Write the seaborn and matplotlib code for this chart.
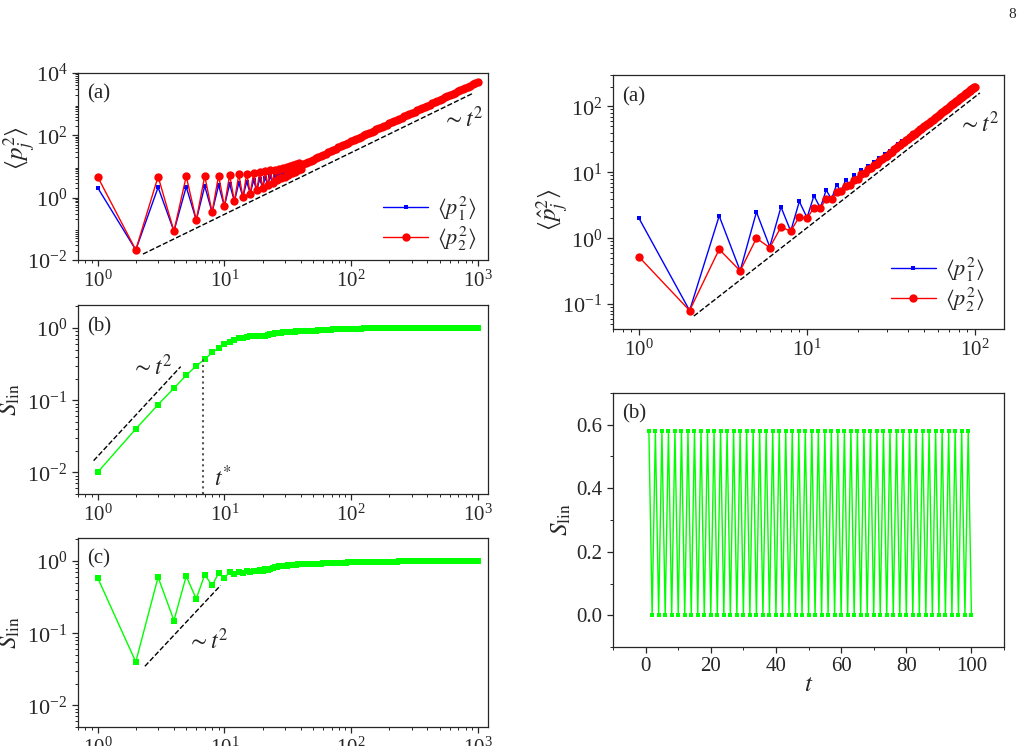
import matplotlib
matplotlib.use("Agg")
import matplotlib.pyplot as plt
from matplotlib.ticker import MultipleLocator, LogLocator, NullFormatter
import seaborn as sns

# ---------------- data ----------------
# left column, times 1..40 every step, then sampled up to 1000
t_head = list(range(1, 41))
t_tail = [42, 44, 46, 48, 50, 53, 55, 58, 60, 63,
          66, 69, 72, 76, 79, 83, 87, 91, 95, 100,
          105, 110, 115, 120, 126, 132, 138, 145, 151, 158,
          166, 174, 182, 191, 200, 209, 219, 229, 240, 251,
          263, 275, 288, 302, 316, 331, 347, 363, 380, 398,
          417, 437, 457, 479, 501, 525, 550, 575, 603, 631,
          661, 692, 724, 759, 794, 832, 871, 912, 955, 1000]

p1_left_head = [2.1, 0.021, 2.15, 0.084, 2.23, 0.189, 2.36, 0.336, 2.53, 0.525,
                2.74, 0.756, 2.99, 1.03, 3.28, 1.34, 3.62, 1.70, 4.0, 2.10,
                4.42, 2.54, 4.88, 3.02, 5.38, 3.55, 5.93, 4.12, 6.52, 4.73,
                7.15, 5.38, 7.82, 6.07, 8.53, 6.80, 9.29, 7.58, 10.1, 8.40]
p2_left_head = [4.7, 0.021, 4.75, 0.084, 4.83, 0.189, 4.96, 0.336, 5.13, 0.525,
                5.34, 0.756, 5.59, 1.03, 5.88, 1.34, 6.22, 1.70, 6.6, 2.10,
                7.02, 2.54, 7.48, 3.02, 7.98, 3.55, 8.53, 4.12, 9.12, 4.73,
                9.75, 5.38, 10.4, 6.07, 11.1, 6.80, 11.9, 7.58, 12.7, 8.40]
# both momenta coincide for t > 40
p_left_tail = [11.6, 12.7, 13.9, 15.1, 16.4, 18.4, 19.9, 22.1, 23.6, 26.0,
               28.6, 31.2, 34.0, 37.7, 40.7, 44.8, 49.1, 53.6, 58.3, 64.4,
               70.7, 77.2, 84.0, 91.1, 100, 109, 119, 131, 141, 154,
               169, 185, 201, 220, 240, 261, 286, 311, 340, 370,
               405, 440, 481, 526, 573, 626, 685, 746, 814, 889,
               971, 1062, 1156, 1264, 1376, 1504, 1644, 1788, 1957, 2133,
               2330, 2542, 2770, 3030, 3301, 3607, 3936, 4295, 4688, 5117]

s_b_head = [0.010, 0.040, 0.087, 0.147, 0.222, 0.30, 0.37, 0.46, 0.53, 0.60,
            0.65, 0.69, 0.72, 0.74, 0.76, 0.77, 0.77, 0.78, 0.78, 0.79,
            0.79, 0.81, 0.83, 0.84, 0.85, 0.86, 0.87, 0.87, 0.88, 0.88,
            0.88, 0.88, 0.89, 0.89, 0.89, 0.89, 0.90, 0.90, 0.90, 0.90]
s_b_tail = [0.90, 0.91, 0.91, 0.91, 0.92, 0.92, 0.93, 0.93, 0.94, 0.94,
            0.95, 0.95, 0.96, 0.96, 0.96, 0.97, 0.97, 0.97, 0.97, 0.98,
            0.98, 0.98, 0.98, 0.98, 0.99, 0.99, 0.99, 0.99, 0.99, 0.99,
            0.99, 0.99, 0.99, 0.99, 1.00, 1.00, 1.00, 1.00, 1.00, 1.00,
            1.00, 1.00, 1.01, 1.01, 1.01, 1.01, 1.01, 1.01, 1.01, 1.01,
            1.01, 1.01, 1.01, 1.01, 1.01, 1.01, 1.02, 1.02, 1.02, 1.02,
            1.02, 1.02, 1.02, 1.02, 1.02, 1.02, 1.02, 1.02, 1.02, 1.02]

s_c_head = [0.59, 0.040, 0.60, 0.15, 0.62, 0.30, 0.65, 0.46, 0.68, 0.59,
            0.70, 0.67, 0.71, 0.69, 0.73, 0.70, 0.74, 0.72, 0.75, 0.73,
            0.77, 0.76, 0.79, 0.80, 0.82, 0.84, 0.86, 0.86, 0.87, 0.87,
            0.87, 0.88, 0.88, 0.88, 0.89, 0.89, 0.89, 0.90, 0.90, 0.90]
s_c_tail = [0.90, 0.90, 0.91, 0.91, 0.91, 0.92, 0.92, 0.92, 0.93, 0.93,
            0.93, 0.94, 0.94, 0.94, 0.95, 0.95, 0.95, 0.95, 0.96, 0.96,
            0.96, 0.96, 0.96, 0.97, 0.97, 0.97, 0.97, 0.97, 0.97, 0.97,
            0.97, 0.98, 0.98, 0.98, 0.98, 0.98, 0.98, 0.98, 0.99, 0.99,
            0.99, 0.99, 0.99, 0.99, 0.99, 0.99, 0.99, 0.99, 0.99, 0.99,
            0.99, 0.99, 0.99, 0.99, 0.99, 0.99, 0.99, 0.99, 0.99, 0.99,
            0.99, 0.99, 0.99, 0.99, 0.99, 0.99, 0.99, 0.99, 0.99, 0.99]

# right column, t = 1..100
t_right = list(range(1, 101))
p1_right = [2.0, 0.08, 2.18, 0.32, 2.5, 0.74, 2.98, 1.28, 3.62, 2.05,
            4.42, 2.88, 5.38, 3.92, 6.5, 5.12, 7.78, 6.48, 9.22, 8.0,
            10.8, 9.68, 12.6, 11.5, 14.5, 13.5, 16.6, 15.7, 18.8, 18.0,
            21.2, 20.5, 23.8, 23.1, 26.5, 25.9, 29.4, 28.9, 32.4, 32.0,
            35.6, 35.3, 39.0, 38.7, 42.5, 42.3, 46.2, 46.1, 50.0, 50.0,
            54.0, 54.1, 58.2, 58.3, 62.5, 62.7, 67.0, 67.3, 71.6, 72.0,
            76.4, 76.9, 81.4, 81.9, 86.5, 87.1, 91.8, 92.5, 97.2, 98.0,
            103, 104, 109, 110, 115, 116, 121, 122, 127, 128,
            133, 134, 140, 141, 147, 148, 153, 155, 160, 162,
            168, 169, 175, 177, 183, 184, 190, 192, 198, 200]
p2_right = [0.52, 0.08, 0.68, 0.32, 1.0, 0.72, 1.48, 1.28, 2.12, 2.0,
            2.92, 2.88, 3.88, 3.92, 5.0, 5.12, 6.28, 6.48, 7.72, 8.0,
            9.32, 9.68, 11.1, 11.5, 13.0, 13.5, 15.1, 15.7, 17.3, 18.0,
            19.7, 20.5, 22.3, 23.1, 25.0, 25.9, 27.9, 28.9, 30.9, 32.0,
            34.1, 35.3, 37.5, 38.7, 41.0, 42.3, 44.7, 46.1, 48.5, 50.0,
            52.5, 54.1, 56.7, 58.3, 61.0, 62.7, 65.5, 67.3, 70.1, 72.0,
            74.9, 76.9, 79.9, 81.9, 85.0, 87.1, 90.3, 92.5, 95.7, 98.0,
            101, 104, 107, 110, 113, 116, 119, 122, 125, 128,
            132, 134, 138, 141, 145, 148, 152, 155, 159, 162,
            166, 169, 173, 177, 181, 184, 189, 192, 197, 200]
s_right = [0.58, 0.0, 0.58, 0.0, 0.58, 0.0, 0.58, 0.0, 0.58, 0.0,
           0.58, 0.0, 0.58, 0.0, 0.58, 0.0, 0.58, 0.0, 0.58, 0.0,
           0.58, 0.0, 0.58, 0.0, 0.58, 0.0, 0.58, 0.0, 0.58, 0.0,
           0.58, 0.0, 0.58, 0.0, 0.58, 0.0, 0.58, 0.0, 0.58, 0.0,
           0.58, 0.0, 0.58, 0.0, 0.58, 0.0, 0.58, 0.0, 0.58, 0.0,
           0.58, 0.0, 0.58, 0.0, 0.58, 0.0, 0.58, 0.0, 0.58, 0.0,
           0.58, 0.0, 0.58, 0.0, 0.58, 0.0, 0.58, 0.0, 0.58, 0.0,
           0.58, 0.0, 0.58, 0.0, 0.58, 0.0, 0.58, 0.0, 0.58, 0.0,
           0.58, 0.0, 0.58, 0.0, 0.58, 0.0, 0.58, 0.0, 0.58, 0.0,
           0.58, 0.0, 0.58, 0.0, 0.58, 0.0, 0.58, 0.0, 0.58, 0.0]

# t^2 guide lines (end points) and t*
guide_a_t, guide_a_y = [2.28, 916], [0.0155, 2240]
guide_b_t, guide_b_y = [0.93, 4.52], [0.0145, 0.293]
guide_c_t, guide_c_y = [2.36, 9.32], [0.0348, 0.46]
guide_r_t, guide_r_y = [2.12, 107], [0.066, 160]
t_star = 6.8
s_star = 0.37

t_left = t_head + t_tail

# ---------------- style ----------------
sns.set_style("ticks")
plt.rcParams["font.family"] = ["Liberation Serif", "DejaVu Serif"]
plt.rcParams["mathtext.fontset"] = "stix"
plt.rcParams["xtick.labelsize"] = 15
plt.rcParams["ytick.labelsize"] = 16

BLUE = "#0000ff"
RED = "#ff0000"
GREEN = "#00ff00"

fig = plt.figure(figsize=(10.26, 7.46), dpi=100)

ax_a = fig.add_axes([0.076, 0.6515, 0.3996, 0.2507])
ax_b = fig.add_axes([0.076, 0.3378, 0.3996, 0.2534])
ax_c = fig.add_axes([0.076, 0.0255, 0.3996, 0.2534])
ax_ra = fig.add_axes([0.5975, 0.559, 0.3811, 0.3405])
ax_rb = fig.add_axes([0.5975, 0.1327, 0.3811, 0.3405])

for ax in [ax_a, ax_b, ax_c, ax_ra]:
    ax.set_xscale("log")
    ax.set_yscale("log")


def momenta(ax, t, p1, p2):
    sns.lineplot(x=t, y=p1, ax=ax, color=BLUE, marker="s", markersize=3.5,
                 markeredgewidth=0, linewidth=1, label=r"$\langle p_1^2\rangle$")
    sns.lineplot(x=t, y=p2, ax=ax, color=RED, marker="o", markersize=6,
                 markeredgewidth=0, linewidth=1, label=r"$\langle p_2^2\rangle$")


# (a) left
momenta(ax_a, t_left, p1_left_head + p_left_tail, p2_left_head + p_left_tail)
ax_a.plot(guide_a_t, guide_a_y, "k--", lw=1)
ax_a.set_xlim(0.7, 1200)
ax_a.set_ylim(1e-2, 1e4)
ax_a.set_yticks([1e-2, 1e0, 1e2, 1e4])
ax_a.set_ylabel(r"$\langle p_j^2\rangle$", fontsize=18)
ax_a.yaxis.set_label_coords(-0.1, 0.6)
ax_a.text(0.939, 0.75, r"$\sim t^2$", transform=ax_a.transAxes,
          fontsize=17, ha="center", va="center")
ax_a.legend(loc="lower right", frameon=False, fontsize=16,
            bbox_to_anchor=(1.02, -0.07), handletextpad=0.4, labelspacing=0.1)

# (b) left
sns.lineplot(x=t_left, y=s_b_head + s_b_tail, ax=ax_b, color=GREEN, marker="s",
             markersize=4, markeredgewidth=0, linewidth=1)
ax_b.plot(guide_b_t, guide_b_y, "k--", lw=1)
ax_b.plot([t_star, t_star], [0.005, s_star], color="#555555", ls=":", lw=1.5)
ax_b.text(0.18, 0.672, r"$\sim t^2$", transform=ax_b.transAxes,
          fontsize=17, ha="center", va="center")
ax_b.text(0.354, 0.085, r"$t^{*}$", transform=ax_b.transAxes,
          fontsize=17, ha="center", va="center")

# (c) left
sns.lineplot(x=t_left, y=s_c_head + s_c_tail, ax=ax_c, color=GREEN, marker="s",
             markersize=4, markeredgewidth=0, linewidth=1)
ax_c.plot(guide_c_t, guide_c_y, "k--", lw=1)
ax_c.text(0.317, 0.455, r"$\sim t^2$", transform=ax_c.transAxes,
          fontsize=17, ha="center", va="center")

for ax in [ax_b, ax_c]:
    ax.set_xlim(0.7, 1200)
    ax.set_ylim(5e-3, 2.1)
    ax.set_ylabel(r"$S_{\rm lin}$", fontsize=18)
    ax.yaxis.set_label_coords(-0.137, 0.5)

for ax in [ax_a, ax_b, ax_c, ax_ra]:
    ax.yaxis.set_minor_locator(LogLocator(base=10, subs=range(2, 10), numticks=20))
    ax.yaxis.set_minor_formatter(NullFormatter())

# (a) right
momenta(ax_ra, t_right, p1_right, p2_right)
ax_ra.plot(guide_r_t, guide_r_y, "k--", lw=1)
ax_ra.set_xlim(0.7, 149)
ax_ra.set_ylim(0.042, 300)
ax_ra.set_ylabel(r"$\langle \hat{p}_j^2\rangle$", fontsize=18)
ax_ra.yaxis.set_label_coords(-0.11, 0.47)
ax_ra.text(0.936, 0.807, r"$\sim t^2$", transform=ax_ra.transAxes,
           fontsize=17, ha="center", va="center")
ax_ra.legend(loc="lower right", frameon=False, fontsize=16,
             bbox_to_anchor=(1.0, -0.02), handletextpad=0.4, labelspacing=0.1)

# (b) right
sns.lineplot(x=t_right, y=s_right, ax=ax_rb, color=GREEN, marker="s",
             markersize=3.2, markeredgewidth=0, linewidth=1)
ax_rb.set_xlim(-10, 110)
ax_rb.set_ylim(-0.1, 0.7)
ax_rb.set_yticks([0.0, 0.2, 0.4, 0.6])
ax_rb.yaxis.set_minor_locator(MultipleLocator(0.1))
ax_rb.set_xticks([0, 20, 40, 60, 80, 100])
ax_rb.xaxis.set_minor_locator(MultipleLocator(10))
ax_rb.tick_params(axis="both", labelsize=15)
ax_rb.set_ylabel(r"$S_{\rm lin}$", fontsize=18)
ax_rb.yaxis.set_label_coords(-0.102, 0.5)
ax_rb.set_xlabel(r"$t$", fontsize=18, labelpad=-2)

# panel labels
for ax, lab, yy in [(ax_a, "(a)", 0.94), (ax_b, "(b)", 0.935), (ax_c, "(c)", 0.94),
                    (ax_ra, "(a)", 0.95), (ax_rb, "(b)", 0.955)]:
    ax.text(0.022, yy, lab, transform=ax.transAxes, fontsize=15,
            ha="left", va="top")

for ax in [ax_a, ax_b, ax_c, ax_ra, ax_rb]:
    ax.tick_params(which="major", length=4, width=0.9)
    ax.tick_params(which="minor", length=2.5, width=0.7)
    for sp in ax.spines.values():
        sp.set_linewidth(0.9)

fig.text(0.987, 0.981, "8", fontsize=11, ha="center", va="center")

fig.savefig("out.png", dpi=100)
